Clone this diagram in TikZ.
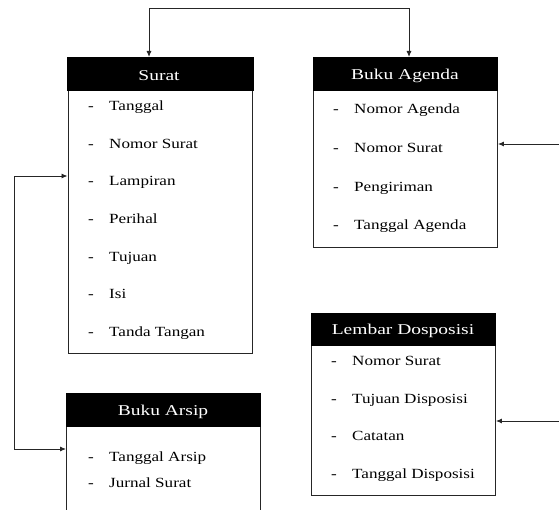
\documentclass[tikz,border=0pt]{standalone}
\usepackage{fontspec}
\setmainfont{Liberation Serif}[FakeStretch=1.22]
\newfontfamily\titlefont{Liberation Serif}[FakeStretch=1.3]
\usetikzlibrary{arrows.meta}
\begin{document}
\begin{tikzpicture}[x=1pt,y=-1pt,
  hdr/.style={draw=black,fill=black,line width=0.8pt,anchor=north west,inner sep=0pt},
  titletext/.style={text=white,font=\titlefont\fontsize{15}{17}\selectfont,yshift=-2pt},
  bodybox/.style={draw=black!85,line width=0.9pt,anchor=north west,inner sep=0pt},
  dashmark/.style={anchor=west,inner sep=0pt,yshift=-3pt,font=\fontsize{14}{16}\selectfont,text height=0.7em,text depth=0.2em},
  item/.style={anchor=west,inner sep=0pt,yshift=-3pt,font=\fontsize{14}{16}\selectfont,text height=0.7em,text depth=0.2em},
  conn/.style={draw=black!85,line width=0.9pt},
  tip/.tip={Latex[length=6pt,width=5pt]}
]
\useasboundingbox (0,0) rectangle (559,510);
\clip (0,0) rectangle (559,510);

% ---- Surat ----
\node[bodybox,minimum width=184pt,minimum height=263pt] (suratbody) at (67.5,90) {};
\node[hdr,minimum width=186pt,minimum height=33pt] (surathead) at (67,57) {};
\node[titletext] (surattitle) at (159,74) {Surat};
\node[dashmark] (sd1) at (88,105) {-}; \node[item] (si1) at (109,105) {Tanggal};
\node[dashmark] (sd2) at (88,143) {-}; \node[item] (si2) at (109,143) {Nomor Surat};
\node[dashmark] (sd3) at (88,180) {-}; \node[item] (si3) at (109,180) {Lampiran};
\node[dashmark] (sd4) at (88,218) {-}; \node[item] (si4) at (109,218) {Perihal};
\node[dashmark] (sd5) at (88,256) {-}; \node[item] (si5) at (109,256) {Tujuan};
\node[dashmark] (sd6) at (88,293) {-}; \node[item] (si6) at (109,293) {Isi};
\node[dashmark] (sd7) at (88,331) {-}; \node[item] (si7) at (109,331) {Tanda Tangan};

% ---- Buku Agenda ----
\node[bodybox,minimum width=184pt,minimum height=157pt] (agendabody) at (313,90) {};
\node[hdr,minimum width=184pt,minimum height=33pt] (agendahead) at (313,57) {};
\node[titletext] (agendatitle) at (405,74) {Buku Agenda};
\node[dashmark] (ad1) at (333,108) {-}; \node[item] (ai1) at (354,108) {Nomor Agenda};
\node[dashmark] (ad2) at (333,147) {-}; \node[item] (ai2) at (354,147) {Nomor Surat};
\node[dashmark] (ad3) at (333,186) {-}; \node[item] (ai3) at (354,186) {Pengiriman};
\node[dashmark] (ad4) at (333,224) {-}; \node[item] (ai4) at (354,224) {Tanggal Agenda};

% ---- Lembar Dosposisi ----
\node[bodybox,minimum width=184pt,minimum height=150pt] (lembarbody) at (311,345) {};
\node[hdr,minimum width=184pt,minimum height=32pt] (lembarhead) at (311,313) {};
\node[titletext] (lembartitle) at (403,329) {Lembar Dosposisi};
\node[dashmark] (ld1) at (331,360) {-}; \node[item] (li1) at (352,360) {Nomor Surat};
\node[dashmark] (ld2) at (331,398) {-}; \node[item] (li2) at (352,398) {Tujuan Disposisi};
\node[dashmark] (ld3) at (331,435) {-}; \node[item] (li3) at (352,435) {Catatan};
\node[dashmark] (ld4) at (331,473) {-}; \node[item] (li4) at (352,473) {Tanggal Disposisi};

% ---- Buku Arsip ----
\node[bodybox,minimum width=194pt,minimum height=110pt] (arsipbody) at (66,426) {};
\node[hdr,minimum width=194pt,minimum height=33pt] (arsiphead) at (66,393) {};
\node[titletext] (arsiptitle) at (163,410) {Buku Arsip};
\node[dashmark] (rd1) at (88,456) {-}; \node[item] (ri1) at (109,456) {Tanggal Arsip};
\node[dashmark] (rd2) at (88,482) {-}; \node[item] (ri2) at (109,482) {Jurnal Surat};

% ---- connectors ----
\coordinate (t1) at (149,8);
\coordinate (t2) at (409,8);
\draw[conn,tip-tip] (surathead.north -| t1) -- (t1) -- (t2) -- (agendahead.north -| t2);

\coordinate (r1) at (559,144);
\draw[conn,-tip] (r1) -- (agendabody.east |- r1);

\coordinate (r2) at (559,421);
\draw[conn,-tip] (r2) -- (lembarbody.east |- r2);

\coordinate (l1) at (14,176);
\coordinate (l2) at (14,449);
\draw[conn,tip-tip] (suratbody.west |- l1) -- (l1) -- (l2) -- (arsipbody.west |- l2);
\end{tikzpicture}
\end{document}
